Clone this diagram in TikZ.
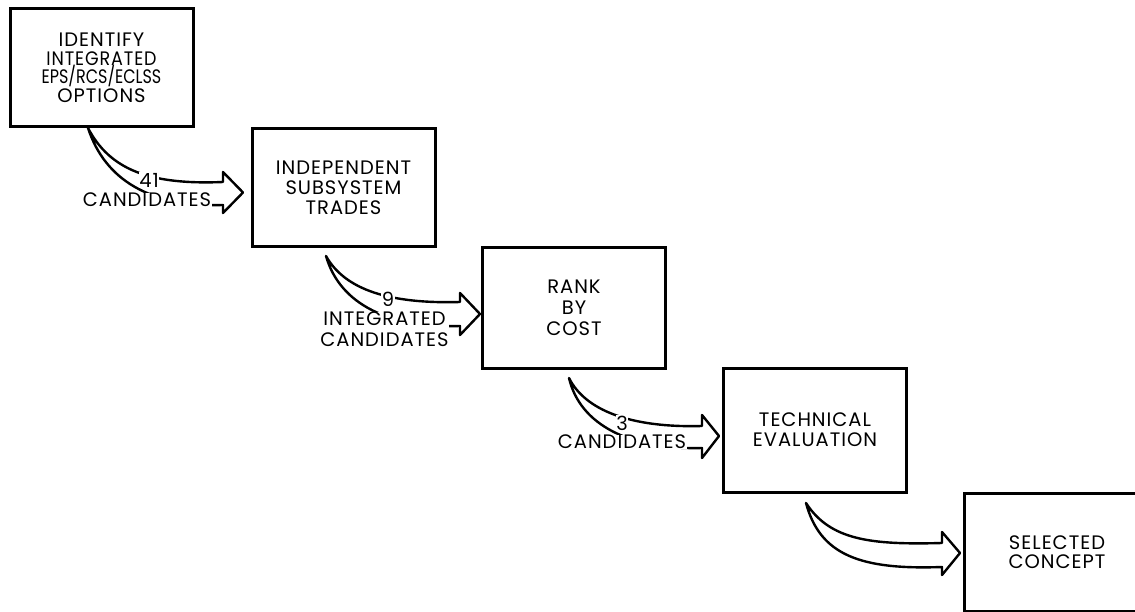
\documentclass[tikz,border=0pt]{standalone}
\usepackage{fontspec}
\setmainfont{Poppins}[LetterSpace=5]
\begin{document}
\begin{tikzpicture}[x=1pt,y=-1pt,
  box/.style={draw,line width=3pt,minimum width=183pt,minimum height=118pt,align=center,font=\fontsize{19.5}{18.5}\selectfont},
  arr/.style={draw,line width=2.4pt,line join=round,fill=white},
  lbl/.style={fill=white,inner sep=0.5pt,align=center,font=\fontsize{19.5}{21}\selectfont}]
\useasboundingbox (0,0) rectangle (1135,612);
% boxes
\node[box] (b1) at (101.5,68) {IDENTIFY\\\scalebox{0.9}[1]{INTEGRATED}\\\scalebox{0.82}[1]{\addfontfeature{LetterSpace=0}EPS/RCS/ECLSS}\\OPTIONS};
\node[box,font=\fontsize{19.5}{20}\selectfont] (b2) at (343.5,188) {INDEPENDENT\\SUBSYSTEM\\TRADES};
\node[box,minimum height=120pt,font=\fontsize{19.5}{21}\selectfont] (b3) at (574,308) {RANK\\BY\\COST};
\node[box,minimum height=124pt,font=\fontsize{19.5}{20}\selectfont] (b4) at (815,430) {TECHNICAL\\EVALUATION};
\node[box,minimum width=186pt,font=\fontsize{19.5}{18.5}\selectfont] (b5) at (1057,552) {SELECTED\\CONCEPT};
% arrow 1
\coordinate (t1) at (88,128);
\coordinate (h1) at (243,192.5);
\draw[arr] (t1) .. controls (110,170) and (150,185) .. (223,182) -- (223,172) -- (h1) -- (223,213) -- (223,205) .. controls (150,207) and (105,180) .. (t1) -- cycle;
\node[lbl] (n1) at (149,180) {41};
\node[lbl] (c1) at (147,200) {CANDIDATES};
% arrow 2
\coordinate (t2) at (326,256);
\coordinate (h2) at (480,314);
\draw[arr] (t2) .. controls (345,290) and (390,304) .. (460,302) -- (460,293) -- (h2) -- (460,335) -- (460,326) .. controls (390,328) and (340,305) .. (t2) -- cycle;
\node[lbl] (n2) at (388,299) {9};
\node[lbl] (c2) at (384.5,329.5) {INTEGRATED\\CANDIDATES};
% arrow 3
\coordinate (t3) at (569,378);
\coordinate (h3) at (719,436);
\draw[arr] (t3) .. controls (585,410) and (630,428) .. (702,426) -- (702,415) -- (h3) -- (702,458) -- (702,448) .. controls (630,450) and (580,425) .. (t3) -- cycle;
\node[lbl] (n3) at (622,423) {3};
\node[lbl] (c3) at (622,442) {CANDIDATES};
% arrow 4
\coordinate (t4) at (806,503);
\coordinate (h4) at (960,553);
\draw[arr] (t4) .. controls (830,540) and (870,545) .. (942,543) -- (942,532) -- (h4) -- (942,575) -- (942,567) .. controls (860,570) and (820,555) .. (t4) -- cycle;
\end{tikzpicture}
\end{document}
